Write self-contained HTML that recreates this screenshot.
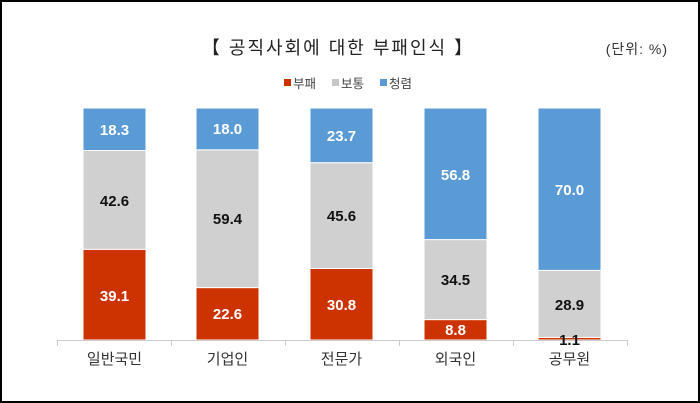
<!DOCTYPE html><html><head><meta charset="utf-8"><style>body{margin:0;background:#fff}svg{display:block}text{font-family:"Liberation Sans","Noto Sans CJK KR",sans-serif}</style></head><body>
<svg width="700" height="403" viewBox="0 0 700 403">
<rect x="1" y="1" width="698" height="401" fill="#fff" stroke="#000" stroke-width="2"/>
<text x="338" y="54" font-size="18" letter-spacing="2" text-anchor="middle" fill="#222">【 공직사회에 대한 부패인식 】</text>
<text x="668" y="54" font-size="14" letter-spacing="1" text-anchor="end" fill="#333">(단위: %)</text>
<g font-size="12.5" fill="#444">
<rect x="284" y="79" width="7" height="7" fill="#CC3300"/><text x="293" y="88">부패</text>
<rect x="332" y="79" width="7" height="7" fill="#C8C8C8"/><text x="341" y="88">보통</text>
<rect x="380" y="79" width="7" height="7" fill="#5B9BD5"/><text x="389" y="88">청렴</text>
</g>
<g stroke="#fff" stroke-width="1">
<rect x="83" y="249.3" width="63" height="90.7" fill="#CC3300"/><rect x="83" y="150.5" width="63" height="98.8" fill="#D0D0D0"/><rect x="83" y="108" width="63" height="42.5" fill="#5B9BD5"/>
<rect x="196" y="287.6" width="63" height="52.4" fill="#CC3300"/><rect x="196" y="149.8" width="63" height="137.8" fill="#D0D0D0"/><rect x="196" y="108" width="63" height="41.8" fill="#5B9BD5"/>
<rect x="310" y="268.5" width="63" height="71.5" fill="#CC3300"/><rect x="310" y="162.7" width="63" height="105.8" fill="#D0D0D0"/><rect x="310" y="108" width="63" height="54.7" fill="#5B9BD5"/>
<rect x="424" y="319.6" width="63" height="20.4" fill="#CC3300"/><rect x="424" y="239.6" width="63" height="80" fill="#D0D0D0"/><rect x="424" y="108" width="63" height="131.6" fill="#5B9BD5"/>
<rect x="538" y="337.4" width="63" height="2.6" fill="#CC3300"/><rect x="538" y="270.4" width="63" height="67" fill="#D0D0D0"/><rect x="538" y="108" width="63" height="162.4" fill="#5B9BD5"/>
</g>
<g stroke="#ccc" stroke-width="1"><line x1="57" y1="340.5" x2="628" y2="340.5"/>
<line x1="57.5" y1="340" x2="57.5" y2="346"/><line x1="171.5" y1="340" x2="171.5" y2="346"/><line x1="285.5" y1="340" x2="285.5" y2="346"/><line x1="399.5" y1="340" x2="399.5" y2="346"/><line x1="513.5" y1="340" x2="513.5" y2="346"/><line x1="627.5" y1="340" x2="627.5" y2="346"/></g>
<g font-size="15" font-weight="bold" text-anchor="middle">
<g fill="#fff"><text x="114.5" y="135">18.3</text><text x="114.5" y="301">39.1</text>
<text x="227.5" y="134">18.0</text><text x="227.5" y="319">22.6</text>
<text x="341.5" y="141">23.7</text><text x="341.5" y="310">30.8</text>
<text x="455.5" y="180">56.8</text><text x="455.5" y="335">8.8</text>
<text x="569.5" y="195">70.0</text></g>
<g fill="#111"><text x="114.5" y="206">42.6</text><text x="227.5" y="224">59.4</text><text x="341.5" y="221">45.6</text><text x="455.5" y="285">34.5</text><text x="569.5" y="310">28.9</text><text x="569.5" y="345">1.1</text></g>
</g>
<g font-size="15" fill="#333" text-anchor="middle"><text x="114.5" y="364">일반국민</text><text x="227.5" y="364">기업인</text><text x="341.5" y="364">전문가</text><text x="455.5" y="364">외국인</text><text x="569.5" y="364">공무원</text></g>
</svg></body></html>
